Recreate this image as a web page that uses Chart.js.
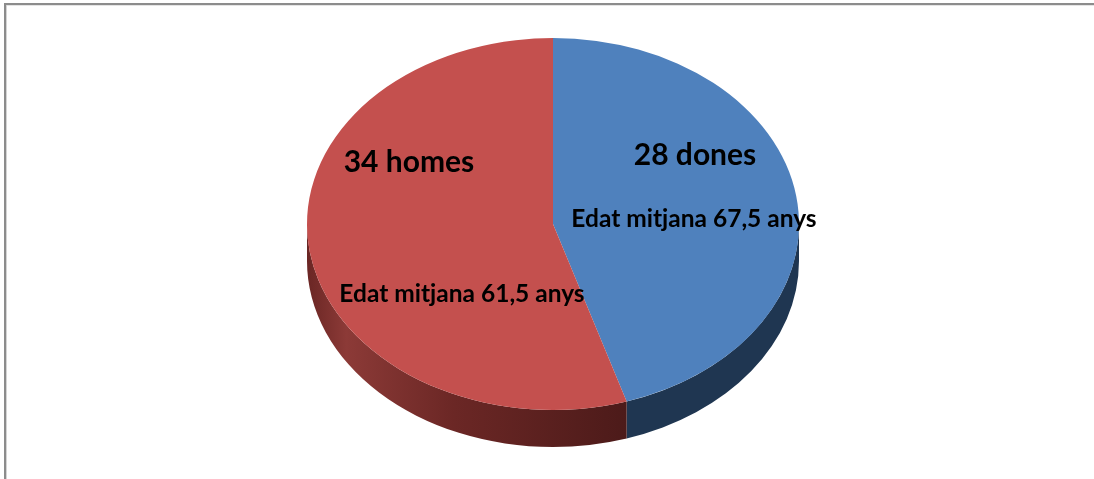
<!DOCTYPE html>
<html>
<head>
<meta charset="utf-8">
<script src="https://cdn.jsdelivr.net/npm/chart.js@4.4.1/dist/chart.umd.min.js"></script>
<style>
  html, body { margin: 0; padding: 0; background: #fff; overflow: hidden; }
  canvas { display: block; }
</style>
</head>
<body>
<canvas id="c" width="1094" height="479"></canvas>
<script>
// ---- data ----
const categories = ['dones', 'homes'];
const counts = [28, 34];
const meanAges = ['67,5', '61,5'];
const titleLabels = ['28 dones', '34 homes'];
const ageLabels = ['Edat mitjana 67,5 anys', 'Edat mitjana 61,5 anys'];

// ---- styling ----
const topColors = ['#4f81bd', '#c4504e'];
const DEPTH = 37;
const SCALE_X = 246 / 186;

function sideFill(ctx, i, cx, rx) {
  if (i === 0) return '#1f3651';
  const g = ctx.createLinearGradient(cx - rx, 0, cx + rx * 0.33, 0);
  g.addColorStop(0.0, '#6a2624');
  g.addColorStop(0.12, '#8c3a37');
  g.addColorStop(0.45, '#6b2725');
  g.addColorStop(1.0, '#4b1a19');
  return g;
}

const frame = {
  id: 'frame',
  beforeDraw(chart) {
    const ctx = chart.ctx;
    ctx.save();
    ctx.fillStyle = '#ffffff';
    ctx.fillRect(0, 0, chart.width, chart.height);
    ctx.fillStyle = '#8c8c8c';
    ctx.fillRect(4, 3, chart.width - 4, 2);
    ctx.fillRect(4, 3, 2, chart.height - 3);
    ctx.fillStyle = '#e4e4e4';
    ctx.fillRect(6, 5, chart.width - 6, 1);
    ctx.fillStyle = '#d4d4d4';
    ctx.fillRect(6, 5, 1, chart.height - 5);
    ctx.restore();
  }
};

const pie3d = {
  id: 'pie3d',
  beforeDatasetsDraw(chart) {
    const ctx = chart.ctx;
    const meta = chart.getDatasetMeta(0);
    const a0 = meta.data[0];
    const cx = a0.x, cy = a0.y;
    const rx = a0.outerRadius * SCALE_X, ry = a0.outerRadius;
    meta.data.forEach((arc, i) => {
      const s = arc.startAngle, e = arc.endAngle;
      const ranges = [];
      for (const off of [-2 * Math.PI, 0, 2 * Math.PI]) {
        const a = Math.max(s + off, 0), b = Math.min(e + off, Math.PI);
        if (b > a) ranges.push([a, b]);
      }
      ranges.forEach(([a, b]) => {
        ctx.save();
        ctx.beginPath();
        ctx.ellipse(cx, cy, rx, ry, 0, a, b, false);
        ctx.lineTo(cx + rx * Math.cos(b), cy + DEPTH + ry * Math.sin(b));
        ctx.ellipse(cx, cy + DEPTH, rx, ry, 0, b, a, true);
        ctx.closePath();
        ctx.fillStyle = sideFill(ctx, i, cx, rx);
        ctx.fill();
        ctx.restore();
      });
    });
    ctx.save();
    ctx.translate(cx, cy);
    ctx.scale(SCALE_X, 1);
    ctx.translate(-cx, -cy);
  },
  afterDatasetsDraw(chart) {
    chart.ctx.restore();
    const ctx = chart.ctx;
    ctx.save();
    ctx.fillStyle = '#000';
    ctx.textAlign = 'center';
    ctx.textBaseline = 'alphabetic';
    const pos = [
      { t: [695, 165], s: [694, 227] },
      { t: [409, 172], s: [462, 302] }
    ];
    titleLabels.forEach((txt, i) => {
      ctx.font = 'bold 30px Lato';
      ctx.fillText(txt, pos[i].t[0], pos[i].t[1]);
      ctx.font = 'bold 24.5px Lato';
      ctx.fillText(ageLabels[i], pos[i].s[0], pos[i].s[1]);
    });
    ctx.restore();
  }
};

new Chart(document.getElementById('c'), {
  type: 'pie',
  data: {
    labels: categories,
    datasets: [{
      data: counts,
      backgroundColor: topColors,
      borderWidth: 0
    }]
  },
  options: {
    responsive: false,
    animation: false,
    layout: { padding: { top: 38, bottom: 69, left: 367, right: 355 } },
    plugins: {
      legend: { display: false },
      tooltip: { enabled: false }
    }
  },
  plugins: [frame, pie3d]
});
</script>
</body>
</html>
